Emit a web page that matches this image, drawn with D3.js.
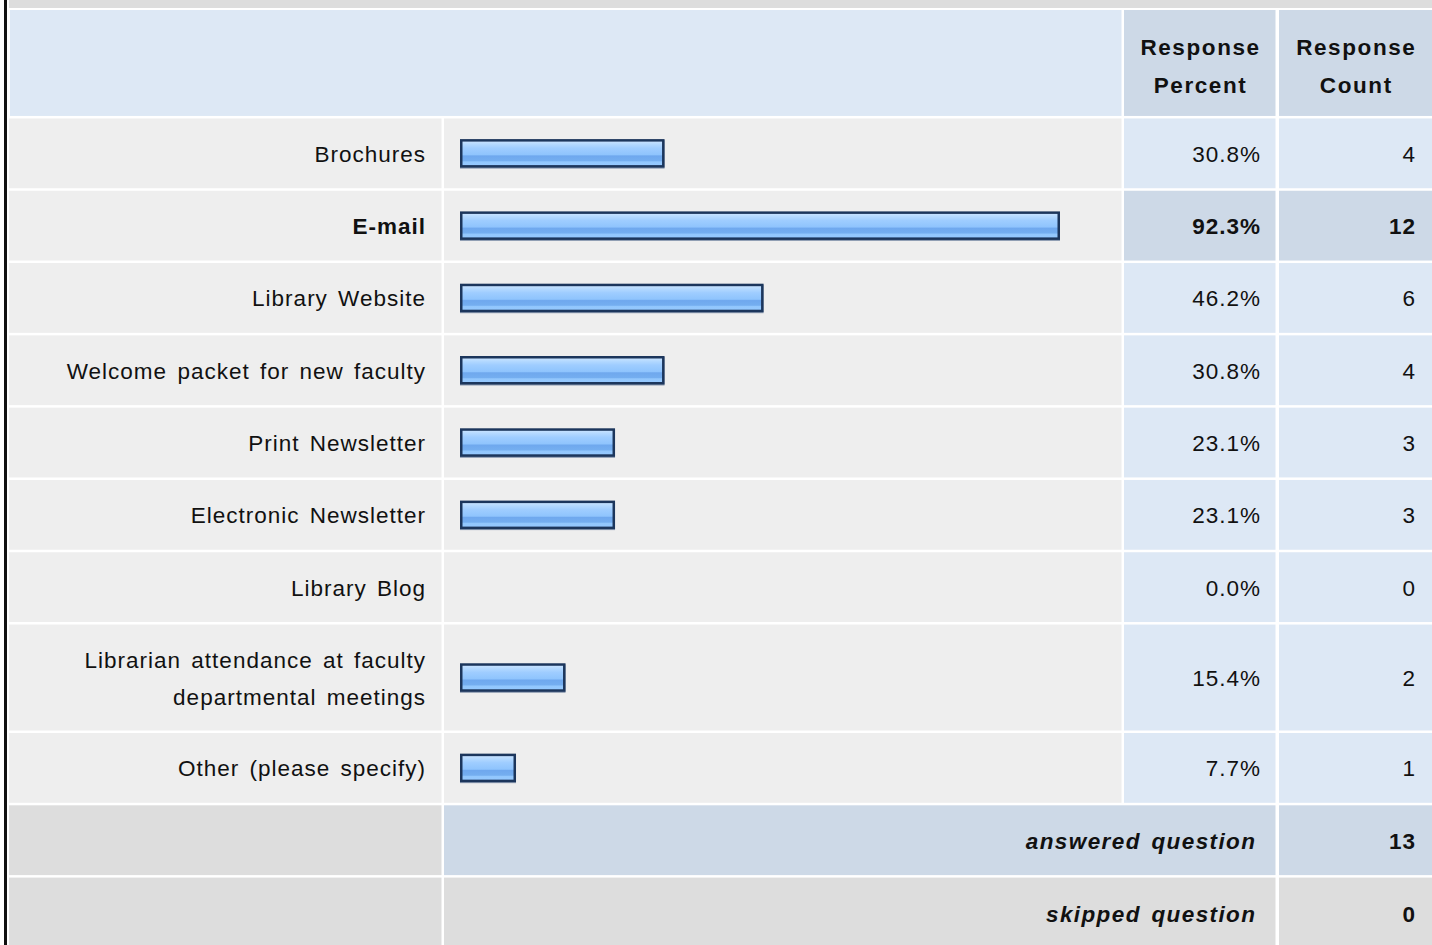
<!DOCTYPE html>
<html>
<head>
<meta charset="utf-8">
<script src="https://cdn.jsdelivr.net/npm/d3@7"></script>
<style>
  body { margin: 0; background: #fff; }
  svg { display: block; font-family: "Liberation Sans", Arial, sans-serif; }
</style>
</head>
<body>
<div id="chart"></div>
<script>
// survey answers
const labels = ["Brochures", "E-mail", "Library Website", "Welcome packet for new faculty",
  "Print Newsletter", "Electronic Newsletter", "Library Blog",
  "Librarian attendance at faculty|departmental meetings", "Other (please specify)"];
const percents = [30.8, 92.3, 46.2, 30.8, 23.1, 23.1, 0.0, 15.4, 7.7];
const counts = [4, 12, 6, 4, 3, 3, 0, 2, 1];
const headers = ["Response|Percent", "Response|Count"];
const answered = 13;
const skipped = 0;

const width = 1432, height = 945;
const svg = d3.select("#chart").append("svg")
  .attr("width", width).attr("height", height);

// gradient for the bars
const defs = svg.append("defs");
const grad = defs.append("linearGradient").attr("id", "barGrad")
  .attr("x1", 0).attr("y1", 0).attr("x2", 0).attr("y2", 1);
[[0, "#cfe6ff"], [0.15, "#b4d9ff"], [0.3, "#9fcdff"], [0.55, "#8fc4fd"],
 [0.6, "#6fa8ee"], [0.78, "#74aef0"], [0.83, "#92c7fd"], [1, "#96c9ff"]]
  .forEach(s => grad.append("stop").attr("offset", s[0]).attr("stop-color", s[1]));

// column edges
const col = {
  label: [9, 441.5], bar: [444, 1121.5], pct: [1124, 1275.5], cnt: [1279, 1432]
};
const pitch = 72.3, gap = 2.5;

// left frame + top strip
svg.append("rect").attr("x", 4).attr("y", 0).attr("width", 3).attr("height", height).attr("fill", "#111");
svg.append("rect").attr("x", 9).attr("y", 0).attr("width", width - 9).attr("height", 8).attr("fill", "#dddddd");

function cell(x0, x1, y, h, fill) {
  svg.append("rect").attr("x", x0).attr("y", y).attr("width", x1 - x0).attr("height", h).attr("fill", fill);
}
function txt(x, y, s, anchor, opts = {}) {
  const ls = opts.ls != null ? opts.ls : 1;
  svg.append("text").attr("x", anchor === "end" ? x + ls : x).attr("y", y).attr("text-anchor", anchor)
    .attr("font-size", opts.size || 22.5)
    .attr("font-weight", opts.bold ? "bold" : "normal")
    .attr("font-style", opts.italic ? "italic" : "normal")
    .attr("letter-spacing", ls)
    .attr("word-spacing", opts.ws != null ? opts.ws : 3)
    .attr("fill", "#111").text(s);
}

// header
let y = 10;
const headH = pitch * 1.5 - gap;
cell(10, col.bar[1], y, headH, "#dde8f5");
cell(col.pct[0], col.pct[1], y, headH, "#cdd9e7");
cell(col.cnt[0], col.cnt[1], y, headH, "#cdd9e7");
headers.forEach((hd, i) => {
  const c = i === 0 ? col.pct : col.cnt;
  hd.split("|").forEach((ln, j) => txt((c[0] + c[1]) / 2 + 0.8, 55 + j * 38, ln, "middle", {bold: true, ls: 1.6}));
});
y += pitch * 1.5;

const x = d3.scaleLinear().domain([0, 100]).range([0, 643]);
const maxCount = d3.max(counts);

labels.forEach((lab, i) => {
  const lines = lab.split("|");
  const span = pitch + (lines.length - 1) * pitch / 2;
  const h = span - gap;
  const top = y;
  const mid = top + h / 2;
  const hi = counts[i] === maxCount;
  cell(col.label[0], col.label[1], top, h, "#eeeeee");
  cell(col.bar[0], col.bar[1], top, h, "#eeeeee");
  cell(col.pct[0], col.pct[1], top, h, hi ? "#cdd9e7" : "#dde8f5");
  cell(col.cnt[0], col.cnt[1], top, h, hi ? "#cdd9e7" : "#dde8f5");

  const lh = 37;
  lines.forEach((ln, j) => {
    const by = mid + 8.5 - (lines.length - 1) * lh / 2 + j * lh;
    txt(425, by, ln, "end", {bold: hi});
  });
  txt(1260, mid + 8.5, percents[i].toFixed(1) + "%", "end", {bold: hi});
  txt(1415, mid + 8.5, counts[i], "end", {bold: hi});

  if (percents[i] > 0) {
    const bw = x(percents[i]) + 6.5;
    const bx = 460, bh = 28.5, byy = mid - bh / 2;
    // soft shadow on left/bottom
    svg.append("rect").attr("x", bx).attr("y", byy + 1).attr("width", bw).attr("height", bh)
      .attr("fill", "#8796ad");
    svg.append("rect").attr("x", bx + 1.25).attr("y", byy + 1.25).attr("width", bw - 2.5).attr("height", bh - 2.5)
      .attr("fill", "url(#barGrad)").attr("stroke", "#1c365c").attr("stroke-width", 2.5);
  }
  y += span;
});

// footer rows
const footH = pitch - gap;
cell(col.label[0], col.label[1], y, footH, "#dddddd");
cell(col.bar[0], col.pct[1], y, footH, "#cdd9e7");
cell(col.cnt[0], col.cnt[1], y, footH, "#cdd9e7");
txt(1255, y + footH / 2 + 9, "answered question", "end", {bold: true, italic: true, ls: 1.4});
txt(1415, y + footH / 2 + 9, answered, "end", {bold: true});
y += pitch;
cell(col.label[0], col.label[1], y, footH, "#dddddd");
cell(col.bar[0], col.pct[1], y, footH, "#dddddd");
cell(col.cnt[0], col.cnt[1], y, footH, "#dddddd");
txt(1255, y + footH / 2 + 9, "skipped question", "end", {bold: true, italic: true, ls: 1.4});
txt(1415, y + footH / 2 + 9, skipped, "end", {bold: true});
</script>
</body>
</html>
